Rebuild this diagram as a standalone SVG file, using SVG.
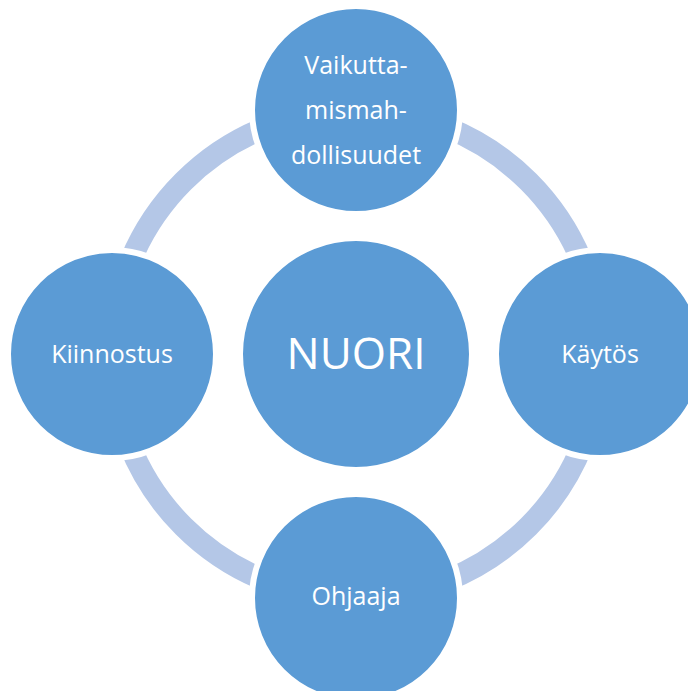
<svg xmlns="http://www.w3.org/2000/svg" width="688" height="691" viewBox="0 0 688 691">
  <style>
    .conn { fill: none; stroke: #B4C7E7; stroke-width: 22; }
    .node { fill: #5B9BD5; stroke: #FFFFFF; stroke-width: 6; }
    .lbl { fill: #FFFFFF; font-family: "Open Sans", "Noto Sans", "DejaVu Sans", sans-serif; font-size: 25px; text-anchor: middle; }
    .big { font-size: 44px; }
  </style>
  <rect width="688" height="691" fill="#FFFFFF"/>
  <g id="connectors">
    <path class="conn" d="M356,110 A244,244 0 0 1 600,354"/>
    <path class="conn" d="M600,354 A244,244 0 0 1 356,598"/>
    <path class="conn" d="M356,598 A244,244 0 0 1 112,354"/>
    <path class="conn" d="M112,354 A244,244 0 0 1 356,110"/>
  </g>
  <g id="node-nuori">
    <circle class="node" cx="356" cy="354" r="116"/>
    <text class="lbl big" x="356" y="369">NUORI</text>
  </g>
  <g id="node-vaikuttamismahdollisuudet">
    <circle class="node" cx="356" cy="110" r="104"/>
    <text class="lbl" x="356" y="74">Vaikutta-</text>
    <text class="lbl" x="356" y="118.5">mismah-</text>
    <text class="lbl" x="356" y="164">dollisuudet</text>
  </g>
  <g id="node-kaytos">
    <circle class="node" cx="600" cy="354" r="104"/>
    <text class="lbl" x="600" y="363">Käytös</text>
  </g>
  <g id="node-ohjaaja">
    <circle class="node" cx="356" cy="598" r="104"/>
    <text class="lbl" x="356" y="605">Ohjaaja</text>
  </g>
  <g id="node-kiinnostus">
    <circle class="node" cx="112" cy="354" r="104"/>
    <text class="lbl" x="112" y="363">Kiinnostus</text>
  </g>
</svg>
